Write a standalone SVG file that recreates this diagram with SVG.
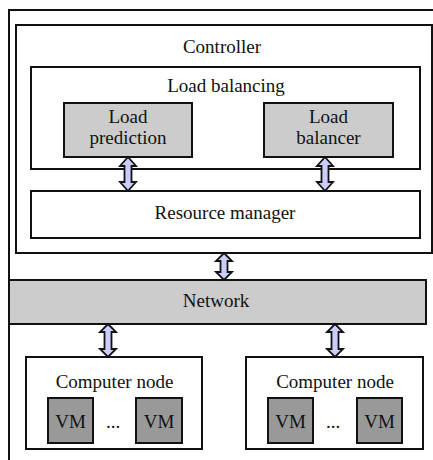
<svg xmlns="http://www.w3.org/2000/svg" width="433" height="460" viewBox="0 0 433 460">
<style>
.box{fill:#fff;stroke:#111;stroke-width:2}
.gray{fill:#cccccc;stroke:#111;stroke-width:2}
.dark{fill:#999999;stroke:#111;stroke-width:2}
.arr{fill:#ccccff;stroke:#111;stroke-width:1.8}
</style>
<rect width="433" height="460" fill="#fff"/>
<g id="frame"><path d="M433 10 H9 V460" fill="none" stroke="#111" stroke-width="2"/></g>
<g id="controller">
<rect class="box" x="16" y="25" width="416" height="228"/>
</g>
<g id="load-balancing">
<rect class="box" x="31" y="67" width="389" height="102"/>
</g>
<g id="load-prediction">
<rect class="gray" x="64" y="103" width="128" height="54"/>
</g>
<g id="load-balancer">
<rect class="gray" x="264" y="103" width="129" height="54"/>
</g>
<g id="resource-manager">
<rect class="box" x="31" y="191" width="389" height="47"/>
</g>
<g id="network">
<rect class="gray" x="9" y="280" width="417" height="44"/>
</g>
<g id="computer-node-1">
<rect class="box" x="26" y="357" width="176" height="92"/>
<rect class="dark" x="48" y="398" width="45" height="45"/>
<rect class="dark" x="136" y="398" width="46" height="45"/>
</g>
<g id="computer-node-2">
<rect class="box" x="246" y="357" width="177" height="92"/>
<rect class="dark" x="268" y="398" width="45" height="45"/>
<rect class="dark" x="357" y="398" width="45" height="45"/>
</g>
<g id="connectors">
<path class="arr" d="M128 157 L136 166 L131.5 166 L131.5 182 L136 182 L128 191 L120 182 L124.5 182 L124.5 166 L120 166 Z"/>
<path class="arr" d="M325 157 L333 166 L328.5 166 L328.5 182 L333 182 L325 191 L317 182 L321.5 182 L321.5 166 L317 166 Z"/>
<path class="arr" d="M224 253 L232 261 L227.5 261 L227.5 272 L232 272 L224 280 L216 272 L220.5 272 L220.5 261 L216 261 Z"/>
<path class="arr" d="M108 324 L116 332 L111.5 332 L111.5 349 L116 349 L108 357 L100 349 L104.5 349 L104.5 332 L100 332 Z"/>
<path class="arr" d="M335 324 L343 332 L338.5 332 L338.5 349 L343 349 L335 357 L327 349 L331.5 349 L331.5 332 L327 332 Z"/>
</g>
<g id="labels" font-family="Liberation Serif" font-size="19" fill="#111" text-anchor="middle">
<text font-family="Liberation Serif" font-size="19" x="222" y="53">Controller</text>
<text font-family="Liberation Serif" font-size="19" x="226" y="92">Load balancing</text>
<text font-family="Liberation Serif" font-size="19" x="128" y="123">Load</text>
<text font-family="Liberation Serif" font-size="19" x="128" y="144">prediction</text>
<text font-family="Liberation Serif" font-size="19" x="328.5" y="123">Load</text>
<text font-family="Liberation Serif" font-size="19" x="328.5" y="144">balancer</text>
<text font-family="Liberation Serif" font-size="19" x="225" y="219">Resource manager</text>
<text font-family="Liberation Serif" font-size="19" x="216" y="307">Network</text>
<text font-family="Liberation Serif" font-size="19" x="114.5" y="388">Computer node</text>
<text font-family="Liberation Serif" font-size="19" x="70.5" y="428">VM</text>
<text font-family="Liberation Serif" font-size="19" x="113" y="428">...</text>
<text font-family="Liberation Serif" font-size="19" x="159" y="428">VM</text>
<text font-family="Liberation Serif" font-size="19" x="335" y="388">Computer node</text>
<text font-family="Liberation Serif" font-size="19" x="290.5" y="428">VM</text>
<text font-family="Liberation Serif" font-size="19" x="333" y="428">...</text>
<text font-family="Liberation Serif" font-size="19" x="379.5" y="428">VM</text>
</g>
</svg>
